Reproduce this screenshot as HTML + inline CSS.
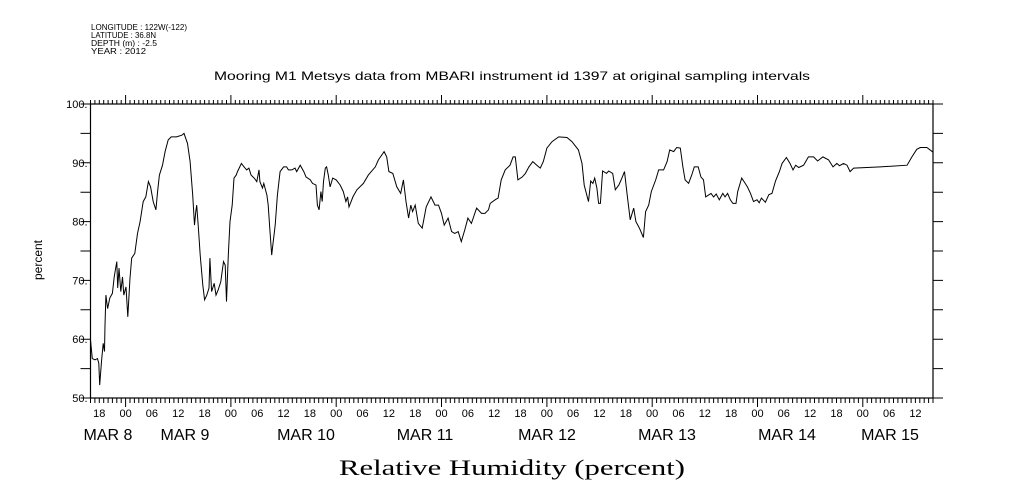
<!DOCTYPE html>
<html><head><meta charset="utf-8"><style>
body{margin:0;background:#fff;}
svg{display:block;font-family:"Liberation Sans",sans-serif;}
</style></head><body>
<svg id="chart" width="1009" height="504" viewBox="0 0 1009 504" xmlns="http://www.w3.org/2000/svg">
<g font-size="8" fill="#000">
<text x="91" y="30" textLength="96" lengthAdjust="spacingAndGlyphs">LONGITUDE : 122W(-122)</text>
<text x="91" y="38" textLength="65" lengthAdjust="spacingAndGlyphs">LATITUDE : 36.8N</text>
<text x="91" y="46" textLength="66" lengthAdjust="spacingAndGlyphs">DEPTH (m) : -2.5</text>
<text x="91" y="54" textLength="55" lengthAdjust="spacingAndGlyphs">YEAR : 2012</text>
</g>
<text x="214" y="80" font-size="12" textLength="596" lengthAdjust="spacingAndGlyphs">Mooring M1 Metsys data from MBARI instrument id 1397 at original sampling intervals</text>
<text transform="translate(42,260) rotate(-90)" font-size="12" text-anchor="middle">percent</text>
<text x="512" y="475" font-family="Liberation Serif,serif" font-size="22" text-anchor="middle" textLength="346" lengthAdjust="spacingAndGlyphs">Relative Humidity (percent)</text>
<g id="axes"></g>
<g id="series"></g>
</svg>
<script>
const hours=[0,0.4,1.0,1.6,1.9,2.1,2.5,2.9,3.2,3.3,3.5,3.9,4.4,5.0,5.4,6.0,6.2,6.5,6.9,7.3,7.6,8.1,8.5,9.0,9.4,10.1,10.7,11.3,12.0,12.6,13.2,13.7,14.3,14.9,15.3,15.7,16.4,17.0,17.7,18.4,19.6,20.8,21.3,22.1,22.7,23.3,23.7,24.0,24.2,24.6,25.0,25.6,26.0,26.5,27.0,27.2,27.6,28.2,28.6,29.1,29.7,30.3,30.7,31.0,31.4,31.8,32.3,32.7,33.2,33.5,34.4,35.0,35.6,36.1,36.6,37.3,37.9,38.4,38.6,39.2,39.5,40.2,40.5,40.9,41.3,41.5,42.1,42.6,43.2,44.0,44.7,45.1,45.9,46.6,47.0,47.8,48.6,49.1,50.1,50.6,51.4,51.7,52.1,52.5,52.8,53.1,53.5,53.8,54.2,54.6,55.2,56.0,56.9,57.6,58.2,58.6,58.9,59.4,59.8,60.7,62.2,63.3,64.9,65.6,66.9,67.5,68.0,68.9,69.8,70.7,71.3,71.9,72.5,73.0,73.4,74.0,74.7,75.6,76.5,77.6,78.5,79.3,80.0,80.6,81.5,82.3,83.0,83.8,84.5,85.3,86.0,86.8,88.0,89.1,89.9,90.7,91.1,92.2,92.9,93.6,94.5,95.6,96.3,96.8,97.4,98.4,99.1,99.9,100.8,101.7,102.5,103.2,104.0,105.2,106.7,108.6,109.7,111.2,112.0,112.5,113.5,114.0,114.5,114.9,115.4,115.8,116.2,116.7,117.6,118.1,119.0,119.6,120.4,121.1,121.7,122.3,123.0,123.8,124.3,125.1,126.0,126.5,127.2,127.8,128.8,129.5,130.6,131.4,132.0,132.9,133.6,134.4,135.0,135.5,136.3,137.0,137.6,138.5,139.1,139.7,140.2,141.4,142.0,142.6,143.3,144.1,144.6,145.2,145.8,146.4,147.1,147.5,148.4,149.2,149.7,150.4,151.1,151.9,152.4,152.9,153.8,154.6,155.3,156.1,157.0,157.6,158.6,159.4,160.1,160.7,161.4,162.5,163.6,164.8,165.7,166.9,168.2,169.2,170.1,170.7,171.6,172.4,173.1,173.9,180.0,186.1,187.2,188.3,189.1,190.6,192.0];
const humidity=[59.9,56.7,56.5,56.7,55.9,52.2,56.2,59.3,57.9,62.4,67.5,65.2,67,67.8,70.6,73.2,68.7,72.1,68.1,70.6,67.5,68.9,63.8,70.4,73.8,74.6,78,80,83.4,84.2,86.8,85.9,83.4,82,85.1,87.9,89.6,91.9,93.9,94.4,94.4,94.7,95,93.3,90.2,84.5,79.4,81.7,82.8,78.9,74.3,69.2,66.7,67.5,68.7,73.8,68.1,69.5,67.5,68.4,69.8,73.2,72.6,66.4,74.3,80,82.8,87.4,87.9,88.5,89.9,89.3,88.8,89.1,87.9,87.4,86.8,88.8,86.8,85.7,86.5,84.5,82.8,78.3,74.3,75.7,79.4,84.5,88.5,89.3,89.3,88.8,88.8,89.1,88.5,89.6,88.5,87.6,87.1,86.5,86.2,82.8,82,85.1,83.4,86.8,89.1,89.3,87.9,85.9,87.4,87.1,86.2,85.1,83.4,84.2,82.5,83.4,84.2,85.4,86.5,87.9,89.3,90.5,91.9,91,88.5,88.2,85.9,84.8,87.1,83.4,80.6,82.8,81.7,82.8,79.7,78.9,82.5,84.2,82.8,82.8,81.4,79.4,80.6,78.3,78,78.3,76.6,78.6,80.6,79.7,82.3,81.4,81.4,82,83.1,83.7,84,87.1,88.8,89.6,91,91,87.1,87.6,88.2,89.3,90.2,89.6,89.1,90.2,92.5,93.6,94.4,94.3,93.6,92.2,89.9,86.2,83.4,86.9,86.5,87.4,85.7,83.1,83.1,88.6,88.2,88.6,88.2,85.4,86.2,87.4,88.5,84.5,80.3,82.3,80,78.9,77.3,81.7,82.8,85.1,87.1,88.8,88.8,90.2,92.2,91.9,92.6,92.5,89.3,87.1,86.5,87.9,89.3,89.3,87.6,87.1,84.2,84.8,84.2,84.7,83.7,84.8,84.2,84.8,83.7,83.1,83.1,85.1,87.4,86.5,85.9,84.8,83.4,83.7,83.2,84,83.3,84.6,84.8,86.9,88.5,89.9,90.9,89.9,88.8,89.6,89.2,89.6,91,91,90.3,91,90.5,89.3,89.9,89.5,89.9,89.6,88.5,89.1,89.3,89.6,91,92.3,92.6,92.6,91.8];
const yTicks=[50,60,70,80,90,100];
const hourLabels=["18","00","06","12","18","00","06","12","18","00","06","12","18","00","06","12","18","00","06","12","18","00","06","12","18","00","06","12","18","00","06","12"];
const dayLabels=["MAR  8","MAR  9","MAR 10","MAR 11","MAR 12","MAR 13","MAR 14","MAR 15"];
const dayLabelX=[108,185,306,425,547,667,787,890];

const L=90.5,R=933,T=104,B=398,HMAX=192,VMIN=50,VMAX=100;
const xs=h=>L+(R-L)*h/HMAX;
const ys=v=>B-(B-T)*(v-VMIN)/(VMAX-VMIN);
const NS="http://www.w3.org/2000/svg";
const axes=document.getElementById('axes');
function mk(tag,attrs,parent){const e=document.createElementNS(NS,tag);for(const k in attrs)e.setAttribute(k,attrs[k]);parent.appendChild(e);return e;}

const frame=mk('rect',{x:L,y:T,width:R-L,height:B-T,fill:'none',stroke:'#000','stroke-width':1.2},axes);



let d='';
for(let h=0;h<=HMAX;h++){
  const x=xs(h).toFixed(1);
  const major=((h+16)%24===0);
  d+=`M${x},${T}V${T-(major?9:4)}M${x},${B}V${B+(major?9:5)}`;
}
for(let v=VMIN;v<=VMAX;v+=5){
  const y=ys(v).toFixed(1);
  d+=`M${L-10},${y}H${L}M${R},${y}H${R+10}`;
}
const ticks=mk('path',{d:d,stroke:'#000','stroke-width':1,fill:'none'},axes);



yTicks.forEach(v=>{
  const t=mk('text',{x:L-3,y:ys(v)+4,'font-size':11,'text-anchor':'end'},axes);
  t.textContent=v+'.';
  
  
});
hourLabels.forEach((s,i)=>{
  const t=mk('text',{x:xs(2+6*i),y:417,'font-size':11,'text-anchor':'middle'},axes);
  t.textContent=s;
  
  
});
dayLabels.forEach((s,i)=>{
  const t=mk('text',{x:dayLabelX[i],y:440,'font-size':16,'text-anchor':'middle','xml:space':'preserve'},axes);
  t.textContent=s;
  
  
});

let p='';
hours.forEach((h,i)=>{p+=(i?'L':'M')+xs(h).toFixed(1)+','+ys(humidity[i]).toFixed(1);});
const line=mk('path',{d:p,fill:'none',stroke:'#000','stroke-width':1},document.getElementById('series'));


</script>
</body></html>
